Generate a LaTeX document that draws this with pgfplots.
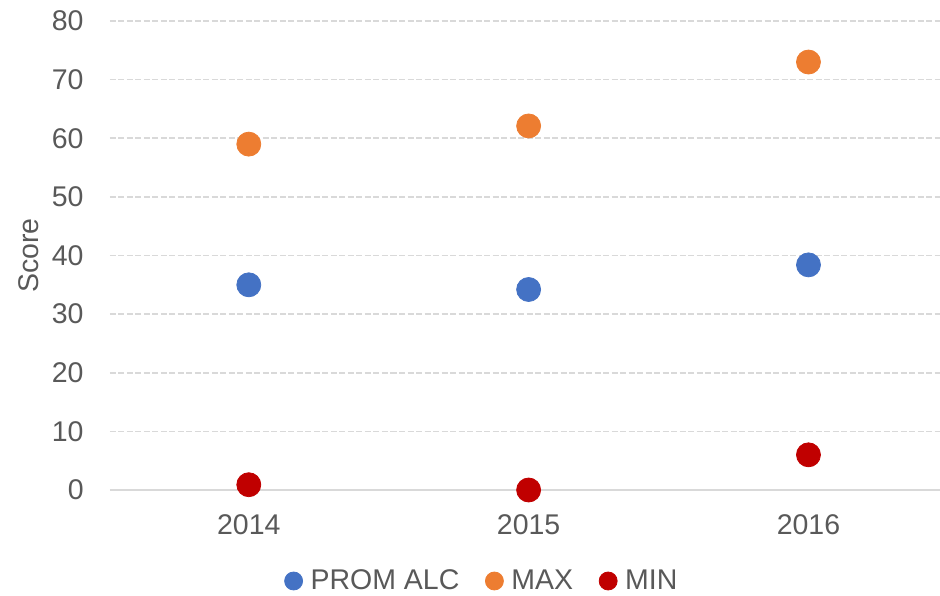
\documentclass[border=0pt]{standalone}
\usepackage{fontspec}
\setmainfont{Liberation Sans}
\usepackage{pgfplots}
\pgfplotsset{compat=1.18}

\definecolor{promblue}{HTML}{4472C4}
\definecolor{maxorange}{HTML}{ED7D31}
\definecolor{minred}{HTML}{C00000}
\definecolor{gridgray}{HTML}{D9D9D9}
\definecolor{txtgray}{HTML}{595959}

\begin{document}
\begin{tikzpicture}
\useasboundingbox (-55bp,-53bp) rectangle (415bp,245bp);
\begin{axis}[
    scale only axis,
    width=415bp,
    height=234.5bp,
    xmin=-0.496, xmax=2.47,
    ymin=0, ymax=80,
    ytick={0,10,...,80},
    xtick={0,1,2},
    xticklabels={2014,2015,2016},
    major tick length=0pt,
    axis line style={draw=none},
    ymajorgrids,
    grid style={gridgray, line width=0.85bp, dash pattern=on 3bp off 1.25bp},
    font=\fontsize{14.3}{17}\selectfont,
    /pgf/number format/assume math mode=true,
    tick label style={txtgray, inner sep=0pt},
    yticklabel style={anchor=east, xshift=-13bp},
    xticklabel style={anchor=center, yshift=-17.5bp},
    ylabel={Score},
    every axis y label/.style={at={(axis description cs:0,0.5)}, xshift=-40.5bp,
        rotate=90, anchor=center, inner sep=0pt, text=txtgray},
    legend columns=-1,
    legend style={draw=none, fill=none, at={(0.447,0)}, anchor=center,
        yshift=-45.5bp, text=txtgray, nodes={inner sep=0pt},
        /tikz/every odd column/.append style={column sep=4bp},
        /tikz/every even column/.append style={column sep=13bp}},
    legend image code/.code={\draw[#1, mark size=4.5bp] plot coordinates {(0bp,0bp)};},
    clip=false,
]
\draw[gridgray, line width=0.9bp] (rel axis cs:0,0) -- (rel axis cs:1,0);

\addplot[only marks, mark=*, mark size=6bp, color=promblue, mark options={draw=none, fill=promblue}]
    coordinates {(0,35.0) (1,34.2) (2,38.4)};
\addlegendentry{PROM ALC}

\addplot[only marks, mark=*, mark size=6bp, color=maxorange, mark options={draw=none, fill=maxorange}]
    coordinates {(0,59.0) (1,62.1) (2,73.0)};
\addlegendentry{MAX}

\addplot[only marks, mark=*, mark size=6bp, color=minred, mark options={draw=none, fill=minred}]
    coordinates {(0,0.9) (1,0.0) (2,6.0)};
\addlegendentry{MIN}
\end{axis}
\end{tikzpicture}
\end{document}
